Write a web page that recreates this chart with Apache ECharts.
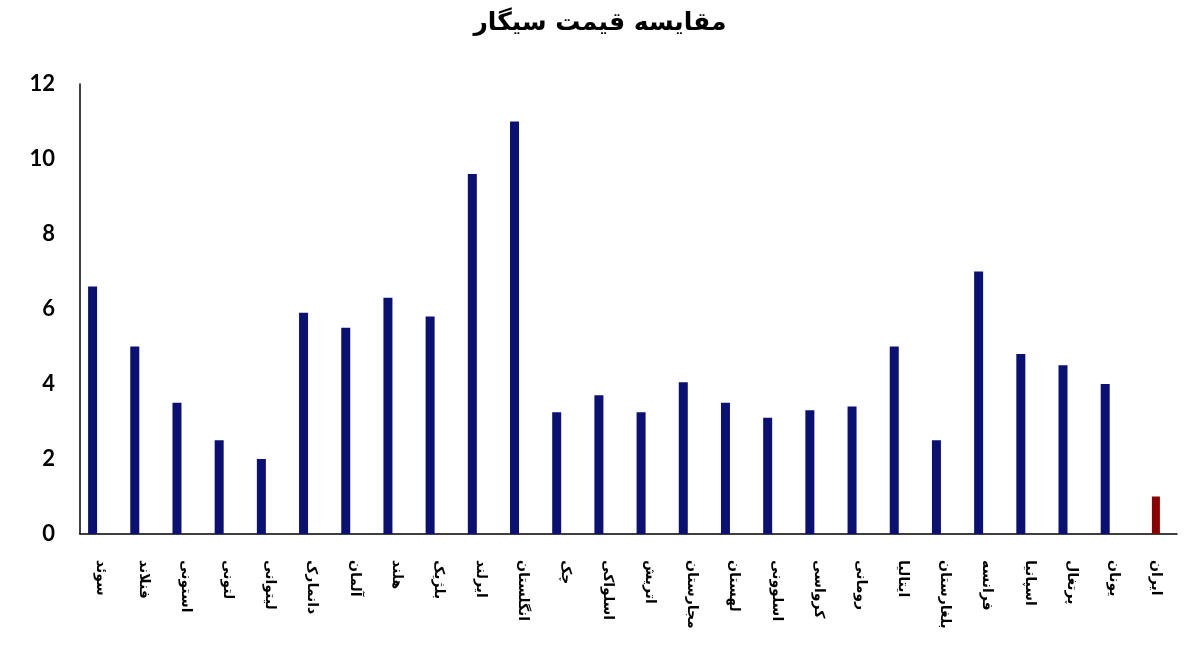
<!DOCTYPE html>
<html>
<head>
<meta charset="utf-8">
<script src="https://cdn.jsdelivr.net/npm/echarts@6/dist/echarts.min.js"></script>
<style>
html,body{margin:0;padding:0;background:#fff;}
#chart{width:1200px;height:666px;}
</style>
</head>
<body>
<div id="chart"></div>
<script>
const title = 'مقایسه قیمت سیگار';
const countries = ['سوئد','فنلاند','استونی','لتونی','لیتوانی','دانمارک','آلمان','هلند','بلژیک','ایرلند','انگلستان','چک','اسلواکی','اتریش','مجارستان','لهستان','اسلوونی','کرواسی','رومانی','ایتالیا','بلغارستان','فرانسه','اسپانیا','پرتغال','یونان','ایران'];
const europePrices = [6.6,5.0,3.5,2.5,2.0,5.9,5.5,6.3,5.8,9.6,11.0,3.25,3.7,3.25,4.05,3.5,3.1,3.3,3.4,5.0,2.5,7.0,4.8,4.5,4.0,null];
const iranPrices = [null,null,null,null,null,null,null,null,null,null,null,null,null,null,null,null,null,null,null,null,null,null,null,null,null,1.0];
const emptySlot = countries.map(() => null);
const yTicks = {min: 0, max: 12, interval: 2};

const chart = echarts.init(document.getElementById('chart'));
chart.setOption({
  backgroundColor: '#ffffff',
  animation: false,
  title: {
    text: title,
    left: 'center',
    top: 6,
    textStyle: {fontFamily: 'DejaVu Sans', fontWeight: 'bold', fontSize: 25, color: '#000'}
  },
  grid: {left: 80, right: 23, top: 84, bottom: 132, containLabel: false},
  xAxis: [{
    type: 'category',
    data: countries,
    axisLine: {lineStyle: {color: '#000', width: 1.5}},
    axisTick: {show: false},
    axisLabel: {
      interval: 0,
      rotate: -90,
      margin: 26,
      fontFamily: 'DejaVu Sans',
      fontWeight: 'bold',
      fontSize: 14,
      color: '#000'
    }
  }, {
    type: 'category',
    data: countries,
    show: false
  }],
  yAxis: {
    type: 'value',
    min: yTicks.min,
    max: yTicks.max,
    interval: yTicks.interval,
    axisLine: {show: true, lineStyle: {color: '#000', width: 1.5}},
    axisTick: {show: false},
    splitLine: {show: false},
    axisLabel: {margin: 25, fontFamily: 'Lato', fontWeight: 'bold', fontSize: 22, color: '#000'}
  },
  series: [{
    type: 'bar',
    xAxisIndex: 0,
    data: europePrices,
    barWidth: 9,
    barGap: '89%',
    itemStyle: {color: '#0a1172'}
  }, {
    type: 'bar',
    xAxisIndex: 0,
    data: emptySlot,
    barWidth: 9,
    itemStyle: {color: 'transparent'}
  }, {
    type: 'bar',
    xAxisIndex: 1,
    data: iranPrices,
    barWidth: 8,
    itemStyle: {color: '#8b0000'}
  }]
});
</script>
</body>
</html>
